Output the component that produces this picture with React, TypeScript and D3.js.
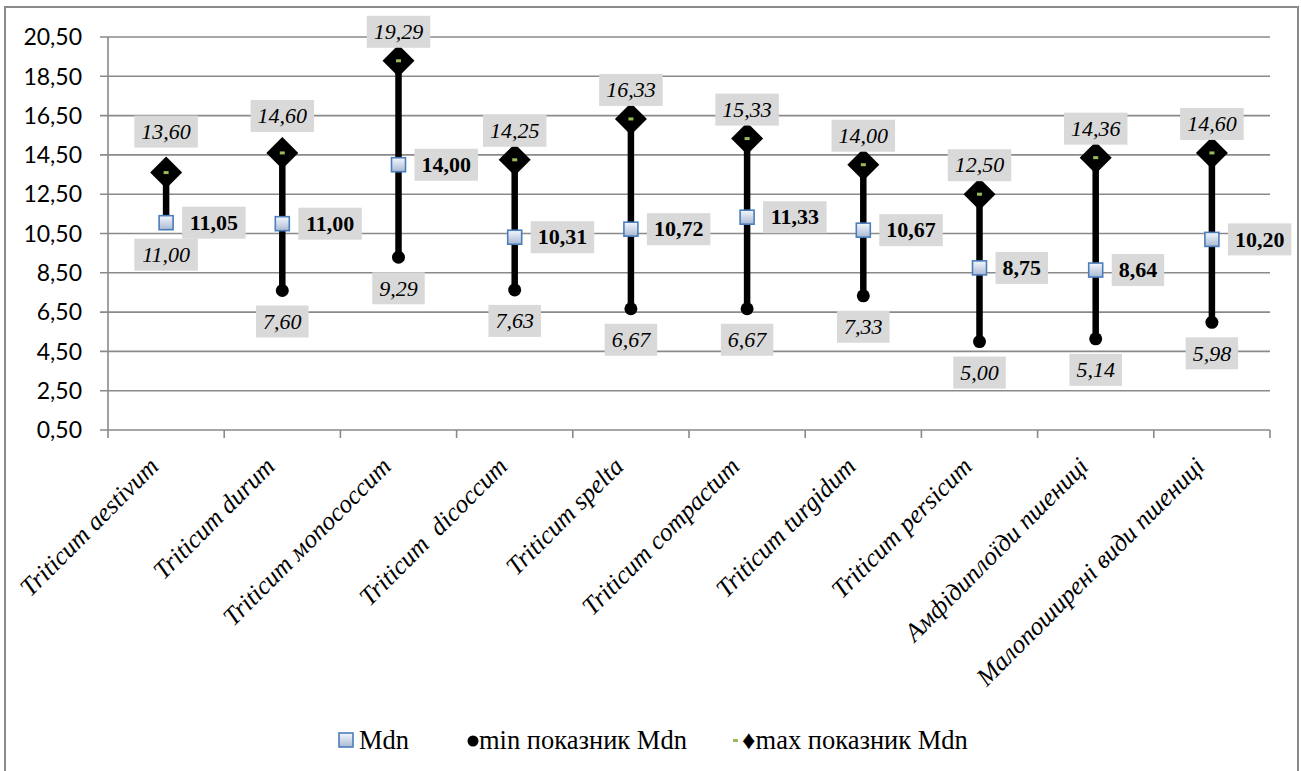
import React from "react";
import * as d3 from "d3";

const categories = [
  "Triticum aestivum",
  "Triticum durum",
  "Triticum мonococcum",
  "Triticum  dicoccum",
  "Triticum spelta",
  "Triticum compactum",
  "Triticum turgidum",
  "Triticum persicum",
  "Амфідиплоїди пшениці",
  "Малопоширені види пшениці",
];
const mdnValues = [11.05, 11.0, 14.0, 10.31, 10.72, 11.33, 10.67, 8.75, 8.64, 10.2];
const minValues = [11.0, 7.6, 9.29, 7.63, 6.67, 6.67, 7.33, 5.0, 5.14, 5.98];
const maxValues = [13.6, 14.6, 19.29, 14.25, 16.33, 15.33, 14.0, 12.5, 14.36, 14.6];
const yTicks = [0.5, 2.5, 4.5, 6.5, 8.5, 10.5, 12.5, 14.5, 16.5, 18.5, 20.5];
const legendLabels = ["Mdn", "min показник Mdn", "♦max показник Mdn"];
// manual nudges of the max labels (Excel moved the first two)
const maxLabelNudge = [-12, -8, 0, 0, 0, 0, 0, 0, 0, 0];

const W = 1301;
const H = 771;
const PL = 108, PR = 1270, PT = 37, PB = 430;
const GRID = "#8a8a8a";
const SERIF = "Times New Roman";
const fmt = (v: number) => d3.format(".2f")(v).replace(".", ",");
const boxW = (s: string) => s.split("").reduce((a, ch) => a + (ch === "," ? 5.5 : 11), 0) + 14;

export default function App() {
  const x = d3.scaleBand<string>().domain(categories).range([PL, PR]).padding(0);
  const y = d3.scaleLinear().domain([0.5, 20.5]).range([PB, PT]);
  const cx = (i: number) => (x(categories[i]) as number) + x.bandwidth() / 2;
  const bounds = [...categories.map((c) => x(c) as number), PR];

  const serifStyle = (italic: boolean, bold: boolean, size: number): React.CSSProperties => ({
    fontFamily: SERIF,
    fontStyle: italic ? "italic" : "normal",
    fontWeight: bold ? "bold" : "normal",
    fontSize: size,
  });

  const LabelBox = ({ cxp, cyp, text, bold, italic }: any) => {
    const w = boxW(text);
    return (
      <g>
        <rect x={cxp - w / 2} y={cyp - 16} width={w} height={32} fill="#d9d9d9" />
        <text x={cxp} y={cyp} dy="0.33em" textAnchor="middle" style={serifStyle(!!italic, !!bold, 22)} fill="#000">
          {text}
        </text>
      </g>
    );
  };

  return (
    <svg width={W} height={H} style={{ position: "absolute", left: 0, top: 0, background: "#fff" }}>
      <defs>
        <linearGradient id="sq" x1="0" y1="0" x2="0" y2="1">
          <stop offset="0" stopColor="#f4f7fc" />
          <stop offset="1" stopColor="#a9b9d3" />
        </linearGradient>
      </defs>
      <rect x={5} y={7} width={1293} height={780} fill="#fff" stroke={GRID} strokeWidth={2} />

      {/* grid + y axis */}
      {yTicks.map((t) => (
        <g key={t}>
          <line x1={PL - 8} x2={PR} y1={y(t)} y2={y(t)} stroke={GRID} strokeWidth={1.6} />
          <text x={82} y={y(t)} dy="0.36em" textAnchor="end" style={{ fontFamily: "Lato", fontSize: 23 }} fill="#000">
            {fmt(t)}
          </text>
        </g>
      ))}
      <line x1={PL} x2={PL} y1={PT} y2={PB} stroke={GRID} strokeWidth={1.6} />
      {bounds.map((b, i) => (
        <line key={i} x1={b} x2={b} y1={PB} y2={PB + 8} stroke={GRID} strokeWidth={1.6} />
      ))}

      {/* category labels */}
      {categories.map((c, i) => (
        <text
          key={c}
          transform={`translate(${cx(i) - 6},${PB + 38}) rotate(-45)`}
          textAnchor="end"
          style={{ ...serifStyle(true, false, 25.5), whiteSpace: "pre" }}
          fill="#000"
        >
          {c}
        </text>
      ))}

      {/* range lines */}
      {categories.map((c, i) => (
        <line key={c} x1={cx(i)} x2={cx(i)} y1={y(minValues[i])} y2={y(maxValues[i])} stroke="#000" strokeWidth={6.5} />
      ))}
      {/* min circles */}
      {minValues.map((v, i) => (
        <circle key={i} cx={cx(i)} cy={y(v)} r={6.5} fill="#000" />
      ))}
      {/* max diamonds */}
      {maxValues.map((v, i) => (
        <g key={i} transform={`translate(${cx(i)},${y(v)})`}>
          <path d={`M0,-16L16,0L0,16L-16,0Z`} fill="#000" />
          <rect x={-2.5} y={-1.5} width={5} height={3} fill="#9bbb59" />
        </g>
      ))}
      {/* mdn squares */}
      {mdnValues.map((v, i) => (
        <rect key={i} x={cx(i) - 7} y={y(v) - 7} width={14} height={14} fill="url(#sq)" stroke="#4a7ebb" strokeWidth={1.6} />
      ))}

      {/* labels */}
      {maxValues.map((v, i) => (
        <LabelBox key={"mx" + i} cxp={cx(i)} cyp={y(v) - 29 + maxLabelNudge[i]} text={fmt(v)} italic />
      ))}
      {minValues.map((v, i) => (
        <LabelBox key={"mn" + i} cxp={cx(i)} cyp={y(v) + 31} text={fmt(v)} italic />
      ))}
      {mdnValues.map((v, i) => (
        <LabelBox key={"md" + i} cxp={cx(i) + 16 + boxW(fmt(v)) / 2} cyp={y(v)} text={fmt(v)} bold />
      ))}

      {/* legend */}
      <g fill="#000">
        <rect x={339} y={733} width={14} height={14} fill="url(#sq)" stroke="#4a7ebb" strokeWidth={1.6} />
        <text x={359} y={749} style={serifStyle(false, false, 26.5)}>{legendLabels[0]}</text>
        <circle cx={473} cy={741} r={5.5} fill="#000" />
        <text x={479} y={749} style={serifStyle(false, false, 26.5)}>{legendLabels[1]}</text>
        <rect x={733} y={739} width={5} height={3} fill="#9bbb59" />
        <text x={742} y={749} style={serifStyle(false, false, 26.5)}>{legendLabels[2]}</text>
      </g>
    </svg>
  );
}
